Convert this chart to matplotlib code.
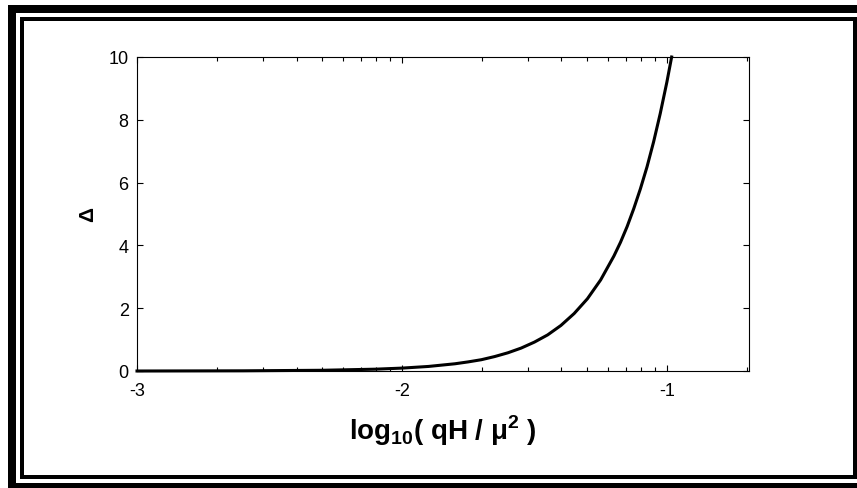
"""Delta against log10(qH/mu^2), MATLAB-style figure with a double frame"""
import matplotlib
matplotlib.use('Agg')
import matplotlib.pyplot as plt
from matplotlib.patches import Rectangle
from matplotlib.ticker import FixedLocator, FuncFormatter, LogLocator
import numpy as np

# values
log_qh = [-3.0, -2.6, -2.3, -2.1, -2.0, -1.9, -1.8, -1.75, -1.7, -1.65, -1.6,
          -1.55, -1.5, -1.45, -1.4, -1.35, -1.3, -1.25, -1.2, -1.175, -1.15,
          -1.125, -1.1, -1.075, -1.05, -1.025, -1.0, -0.982]
delta = [0.0, 0.006, 0.023, 0.058, 0.092, 0.145, 0.23, 0.29, 0.36, 0.46, 0.58,
         0.73, 0.92, 1.15, 1.45, 1.83, 2.3, 2.9, 3.66, 4.1, 4.6,
         5.17, 5.8, 6.5, 7.3, 8.2, 9.2, 10.0]
y_ticks = [0, 2, 4, 6, 8, 10]
x_decades = [-3, -2, -1]

W, H = 857, 489
plt.rcParams['font.family'] = ['Liberation Sans', 'DejaVu Sans']
plt.rcParams['mathtext.fontset'] = 'custom'
plt.rcParams['mathtext.rm'] = 'Liberation Sans:bold'
plt.rcParams['mathtext.bf'] = 'Liberation Sans:bold'

fig = plt.figure(figsize=(W / 100, H / 100), dpi=100)
fig.patch.set_facecolor('white')


def px_rect(x0, y0, x1, y1):
    """black rectangle given in image pixels (origin top-left)"""
    return Rectangle((x0 / W, 1 - y1 / H), (x1 - x0) / W, (y1 - y0) / H,
                     transform=fig.transFigure, facecolor='black',
                     edgecolor='none', zorder=0)


# outer thick frame (runs off the right and bottom edges)
for r in [(8, 6, W + 5, 14), (8, 6, 16, H + 5), (8, 484, W + 5, H + 5)]:
    fig.patches.append(px_rect(*r))
# inner thin frame
for r in [(20, 18, W, 22), (20, 18, 24, 480), (20, 476, W, 480), (853, 18, W, 480)]:
    fig.patches.append(px_rect(*r))

ax = fig.add_axes([137 / W, 1 - 372 / H, (749 - 137) / W, (372 - 58) / H])
ax.plot(10.0 ** np.array(log_qh), delta, color='black', lw=2.2, clip_on=False,
        solid_joinstyle='round')

ax.set_xscale('log')
ax.set_xlim(1e-3, 10 ** -0.69)
ax.set_ylim(0, 10)
ax.xaxis.set_major_locator(FixedLocator([10.0 ** d for d in x_decades]))
ax.xaxis.set_minor_locator(LogLocator(base=10, subs=np.arange(2, 10)))
ax.xaxis.set_major_formatter(FuncFormatter(lambda v, p: '%d' % round(np.log10(v))))
ax.xaxis.set_minor_formatter(FuncFormatter(lambda v, p: ''))
ax.set_yticks(y_ticks)

for s in ax.spines.values():
    s.set_linewidth(0.8)
ax.tick_params(which='both', direction='in', top=True, right=True,
               width=0.8, labelsize=13)
ax.tick_params(axis='y', pad=6)
ax.tick_params(axis='x', pad=8)
ax.tick_params(which='major', length=4.5)
ax.tick_params(which='minor', length=3)

ax.set_xlabel(r'log$_{\mathbf{10}}$( qH / μ$^{\mathbf{2}}$ )',
              fontsize=20, fontweight='bold', labelpad=10)
ax.set_ylabel('Δ', fontsize=15, fontweight='bold', labelpad=8)

fig.savefig('out.png', dpi=100, facecolor='white')
